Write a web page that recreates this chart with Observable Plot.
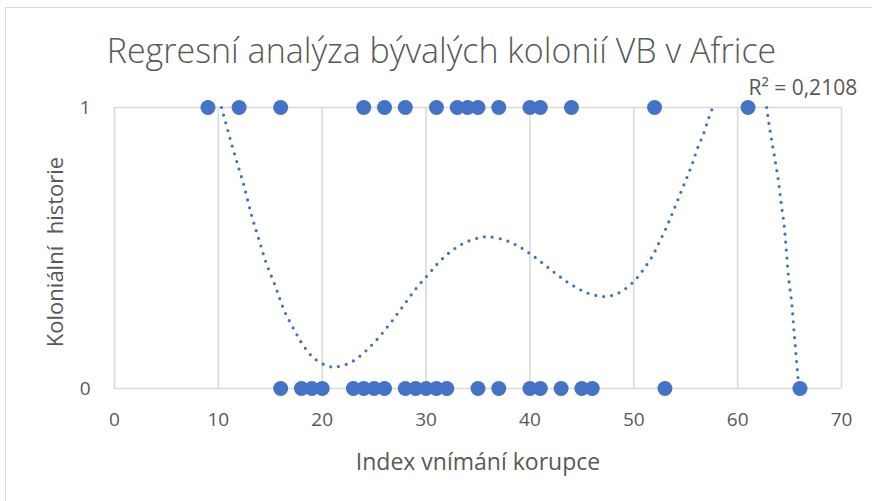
<!DOCTYPE html>
<html>
<head>
<meta charset="utf-8">
<script src="https://cdn.jsdelivr.net/npm/d3@7"></script>
<script src="https://cdn.jsdelivr.net/npm/@observablehq/plot@0.6"></script>
<style>
  html, body { margin: 0; padding: 0; background: #fff; }
  #wrap { position: relative; width: 872px; height: 501px; overflow: hidden; }
  #frame { position: absolute; left: 5px; top: 7px; width: 900px; height: 600px;
           border-top: 1px solid #d9d9d9; border-left: 1px solid #d9d9d9; }
  #chart { position: absolute; left: 0; top: 0; }
  svg text { white-space: pre; }
</style>
</head>
<body>
<div id="wrap"><div id="frame"></div><div id="chart"></div></div>
<script>
// Countries with colonial history = 1 (former British colonies), x = corruption perception index
const colonyX = [9, 12, 16, 24, 26, 28, 31, 33, 34, 35, 37, 40, 41, 44, 52, 61];
// Countries with colonial history = 0
const otherX = [16, 18, 19, 20, 23, 24, 25, 26, 28, 29, 30, 31, 32, 35, 37, 40, 41, 43, 45, 46, 53, 66];

// Polynomial trendline (visible part, two segments inside 0..1)
const trendAX = [10.3, 11.5, 12.4, 13.2, 13.9, 14.6, 15.5, 16.3, 17.4, 18.2, 19.2, 20.6, 21.4, 22.9, 24.7, 26.3, 27.7, 29.1, 30.2, 31.2, 32.4, 33.8, 35.2, 36.0, 37.6, 39.0, 40.3, 41.6, 42.8, 44.1, 45.6, 47.1, 47.9, 48.7, 49.9, 50.9, 51.8, 52.5, 53.2, 53.8, 54.4, 55.0, 55.6, 56.1, 56.7, 57.2, 57.6];
const trendAY = [1.0, 0.841, 0.73, 0.616, 0.531, 0.447, 0.363, 0.281, 0.202, 0.152, 0.108, 0.079, 0.077, 0.096, 0.152, 0.220, 0.289, 0.359, 0.405, 0.448, 0.488, 0.520, 0.537, 0.540, 0.528, 0.504, 0.472, 0.435, 0.400, 0.367, 0.339, 0.327, 0.331, 0.343, 0.377, 0.422, 0.472, 0.524, 0.578, 0.631, 0.686, 0.740, 0.796, 0.851, 0.905, 0.961, 1.0];
const trendBX = [62.8, 63.1, 63.5, 63.9, 64.2, 64.5, 64.7, 64.9, 65.2, 65.4, 65.6, 65.8, 65.9];
const trendBY = [1.0, 0.922, 0.835, 0.746, 0.657, 0.572, 0.484, 0.396, 0.307, 0.218, 0.129, 0.043, 0.0];

const xTicks = [0, 10, 20, 30, 40, 50, 60, 70];
const yTicks = [0, 1];

const titleText = "Regresní analýza bývalých kolonií VB v Africe";
const xTitle = "Index vnímání korupce";
const yTitle = "Koloniální  historie";
const r2Text = "R² = 0,2108";

const points = [
  ...colonyX.map(x => ({x, y: 1})),
  ...otherX.map(x => ({x, y: 0}))
];
const trend = [
  ...trendAX.map((x, i) => ({x, y: trendAY[i], seg: "a"})),
  ...trendBX.map((x, i) => ({x, y: trendBY[i], seg: "b"}))
];

const blue = "#4472C4";
const grey = "#595959";
const font = "'Open Sans', sans-serif";

const chart = Plot.plot({
  width: 872,
  height: 501,
  marginLeft: 114,
  marginRight: 31,
  marginTop: 107,
  marginBottom: 113,
  style: {fontFamily: font, color: grey, background: "transparent", overflow: "visible"},
  x: {domain: [0, 70]},
  y: {domain: [0, 1]},
  marks: [
    Plot.gridX(xTicks, {stroke: "#d9d9d9", strokeOpacity: 1, strokeWidth: 1.6}),
    Plot.gridY(yTicks, {stroke: "#d9d9d9", strokeOpacity: 1, strokeWidth: 1.6}),
    Plot.axisX(xTicks, {tickSize: 0, tickPadding: 24, fontSize: 19, fill: grey, label: null, tickFormat: d => String(d)}),
    Plot.axisY(yTicks, {tickSize: 0, tickPadding: 24, fontSize: 19, fill: grey, label: null, tickFormat: d => String(d)}),
    Plot.dot(points, {x: "x", y: "y", r: 7.5, fill: blue, stroke: "none"}),
    Plot.line(trend, {x: "x", y: "y", z: "seg", stroke: blue, strokeWidth: 3.2,
      strokeDasharray: "0 8", strokeLinecap: "round", curve: "catmull-rom"}),
    Plot.text([xTitle], {frameAnchor: "bottom", dy: 74, fontSize: 23, fill: grey, lineAnchor: "middle"}),
    Plot.text([yTitle], {frameAnchor: "left", dx: -59, dy: 4, rotate: -90, fontSize: 22, fill: grey, lineAnchor: "middle", textAnchor: "middle"}),
    Plot.text([titleText], {frameAnchor: "top-left", dx: 441 - 114, dy: 52 - 107, fontSize: 34, fontWeight: 300, fill: grey, lineAnchor: "middle", textAnchor: "middle"}),
    Plot.text([r2Text], {frameAnchor: "top-left", dx: 748 - 114, dy: 88 - 107, fontSize: 21, fill: grey, lineAnchor: "middle", textAnchor: "start"})
  ]
});
document.getElementById("chart").appendChild(chart);
</script>
</body>
</html>
